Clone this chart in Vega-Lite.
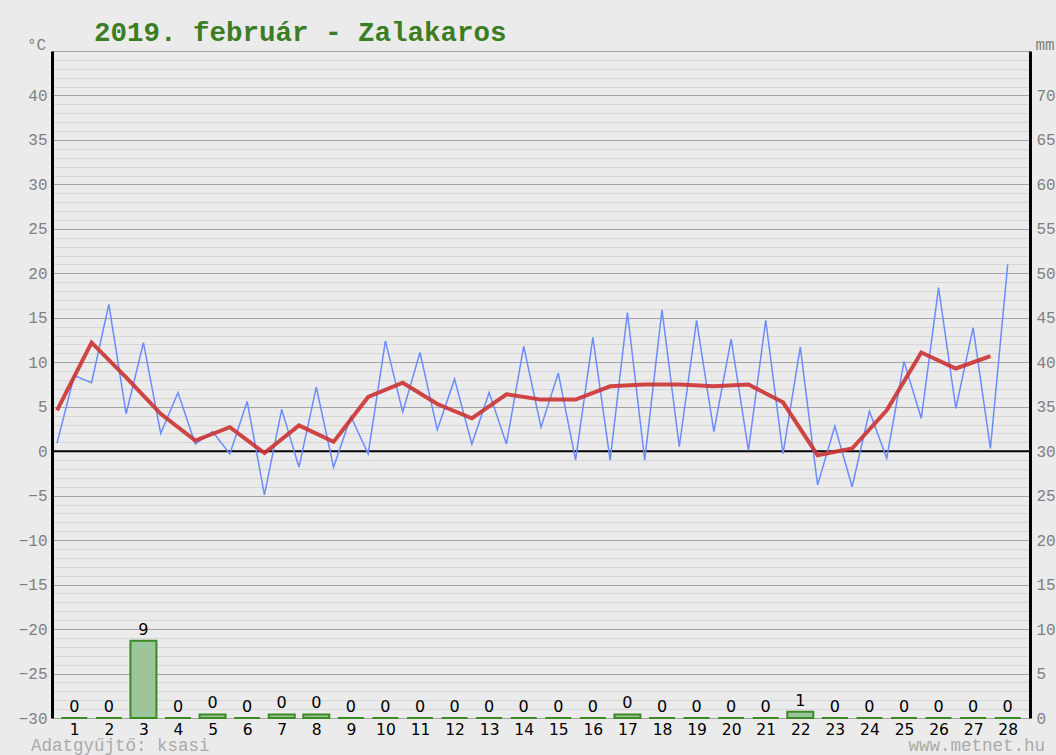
{
  "$schema": "https://vega.github.io/schema/vega-lite/v6.json",
  "autosize": "none",
  "width": 978,
  "height": 667,
  "padding": {"left": 52, "top": 51, "right": 26, "bottom": 37},
  "background": "#ebebeb",
  "config": {
    "view": {"stroke": null},
    "axisX": {
      "grid": false,
      "ticks": false,
      "domain": false,
      "labelFont": "DejaVu Sans",
      "labelFontSize": 15.5,
      "labelColor": "black",
      "labelPadding": 4,
      "labelDx": -2,
      "labelFlush": false,
      "labelOverlap": false
    }
  },
  "title": {
    "text": "2019. február - Zalakaros",
    "anchor": "start",
    "frame": "group",
    "dx": 42,
    "offset": -10,
    "font": "Liberation Mono",
    "fontSize": 27.5,
    "fontWeight": "bold",
    "color": "#3b7d23"
  },
  "datasets": {
    "temp": [
      {"t": 0.5, "temp": 0.9}, {"t": 1.0, "temp": 8.5}, {"t": 1.5, "temp": 7.7}, {"t": 2.0, "temp": 16.5},
      {"t": 2.5, "temp": 4.2}, {"t": 3.0, "temp": 12.2}, {"t": 3.5, "temp": 2.0}, {"t": 4.0, "temp": 6.6},
      {"t": 4.5, "temp": 0.8}, {"t": 5.0, "temp": 2.2}, {"t": 5.5, "temp": -0.3}, {"t": 6.0, "temp": 5.6},
      {"t": 6.5, "temp": -4.9}, {"t": 7.0, "temp": 4.7}, {"t": 7.5, "temp": -1.8}, {"t": 8.0, "temp": 7.2},
      {"t": 8.5, "temp": -1.8}, {"t": 9.0, "temp": 3.9}, {"t": 9.5, "temp": -0.3}, {"t": 10.0, "temp": 12.4},
      {"t": 10.5, "temp": 4.4}, {"t": 11.0, "temp": 11.1}, {"t": 11.5, "temp": 2.4}, {"t": 12.0, "temp": 8.1},
      {"t": 12.5, "temp": 0.8}, {"t": 13.0, "temp": 6.6}, {"t": 13.5, "temp": 0.8}, {"t": 14.0, "temp": 11.8},
      {"t": 14.5, "temp": 2.7}, {"t": 15.0, "temp": 8.8}, {"t": 15.5, "temp": -1.0}, {"t": 16.0, "temp": 12.8},
      {"t": 16.5, "temp": -1.0}, {"t": 17.0, "temp": 15.6}, {"t": 17.5, "temp": -1.0}, {"t": 18.0, "temp": 15.9},
      {"t": 18.5, "temp": 0.5}, {"t": 19.0, "temp": 14.7}, {"t": 19.5, "temp": 2.2}, {"t": 20.0, "temp": 12.6},
      {"t": 20.5, "temp": 0.1}, {"t": 21.0, "temp": 14.7}, {"t": 21.5, "temp": -0.3}, {"t": 22.0, "temp": 11.7},
      {"t": 22.5, "temp": -3.8}, {"t": 23.0, "temp": 2.8}, {"t": 23.5, "temp": -4.0}, {"t": 24.0, "temp": 4.5},
      {"t": 24.5, "temp": -0.8}, {"t": 25.0, "temp": 10.1}, {"t": 25.5, "temp": 3.7}, {"t": 26.0, "temp": 18.4},
      {"t": 26.5, "temp": 4.8}, {"t": 27.0, "temp": 13.9}, {"t": 27.5, "temp": 0.3}, {"t": 28.0, "temp": 21.0}
    ],
    "mean": [
      {"t": 0.5, "mean": 4.6}, {"t": 1.5, "mean": 12.2}, {"t": 2.5, "mean": 8.3}, {"t": 3.5, "mean": 4.2},
      {"t": 4.5, "mean": 1.2}, {"t": 5.5, "mean": 2.7}, {"t": 6.5, "mean": -0.2}, {"t": 7.5, "mean": 2.9},
      {"t": 8.5, "mean": 1.05}, {"t": 9.5, "mean": 6.1}, {"t": 10.5, "mean": 7.7}, {"t": 11.5, "mean": 5.3},
      {"t": 12.5, "mean": 3.7}, {"t": 13.5, "mean": 6.4}, {"t": 14.5, "mean": 5.8}, {"t": 15.5, "mean": 5.8},
      {"t": 16.5, "mean": 7.3}, {"t": 17.5, "mean": 7.5}, {"t": 18.5, "mean": 7.5}, {"t": 19.5, "mean": 7.3},
      {"t": 20.5, "mean": 7.5}, {"t": 21.5, "mean": 5.5}, {"t": 22.5, "mean": -0.45}, {"t": 23.5, "mean": 0.3},
      {"t": 24.5, "mean": 4.6}, {"t": 25.5, "mean": 11.1}, {"t": 26.5, "mean": 9.3}, {"t": 27.5, "mean": 10.7}
    ],
    "precip": [
      {"day": 1, "mm": 0}, {"day": 2, "mm": 0}, {"day": 3, "mm": 8.7}, {"day": 4, "mm": 0},
      {"day": 5, "mm": 0.4}, {"day": 6, "mm": 0}, {"day": 7, "mm": 0.4}, {"day": 8, "mm": 0.4},
      {"day": 9, "mm": 0}, {"day": 10, "mm": 0}, {"day": 11, "mm": 0}, {"day": 12, "mm": 0},
      {"day": 13, "mm": 0}, {"day": 14, "mm": 0}, {"day": 15, "mm": 0}, {"day": 16, "mm": 0},
      {"day": 17, "mm": 0.4}, {"day": 18, "mm": 0}, {"day": 19, "mm": 0}, {"day": 20, "mm": 0},
      {"day": 21, "mm": 0}, {"day": 22, "mm": 0.7}, {"day": 23, "mm": 0}, {"day": 24, "mm": 0},
      {"day": 25, "mm": 0}, {"day": 26, "mm": 0}, {"day": 27, "mm": 0}, {"day": 28, "mm": 0}
    ]
  },
  "layer": [
    {
      "data": {"values": [{}]},
      "mark": {"type": "rule", "color": "black", "strokeWidth": 2},
      "encoding": {
        "y": {
          "datum": 0,
          "type": "quantitative",
          "scale": {"domain": [-30, 45], "nice": false, "zero": false},
          "axis": {
            "orient": "left",
            "values": [-30,-29,-28,-27,-26,-25,-24,-23,-22,-21,-20,-19,-18,-17,-16,-15,-14,-13,-12,-11,-10,-9,-8,-7,-6,-5,-4,-3,-2,-1,0,1,2,3,4,5,6,7,8,9,10,11,12,13,14,15,16,17,18,19,20,21,22,23,24,25,26,27,28,29,30,31,32,33,34,35,36,37,38,39,40,41,42,43,44,45],
            "grid": true,
            "gridColor": {"condition": {"test": "datum.value % 5 === 0", "value": "#a3a3a3"}, "value": "#d6d6d6"},
            "gridWidth": 1.2,
            "ticks": false,
            "domainColor": "black",
            "domainWidth": 3,
            "labelExpr": "datum.value % 5 === 0 && datum.value < 45 ? datum.label : ''",
            "labelOverlap": false,
            "labelFlush": false,
            "labelFont": "Liberation Mono",
            "labelFontSize": 16,
            "labelColor": "#808080",
            "labelPadding": 5,
            "title": "°C",
            "titleAngle": 0,
            "titleX": -16,
            "titleY": -2,
            "titleAlign": "center",
            "titleBaseline": "alphabetic",
            "titleFont": "Liberation Mono",
            "titleFontSize": 16,
            "titleFontWeight": "normal",
            "titleColor": "#808080"
          }
        }
      }
    },
    {
      "data": {"name": "temp"},
      "mark": {"type": "line", "color": "#6b8cff", "strokeWidth": 1.5},
      "encoding": {
        "x": {
          "field": "t",
          "type": "quantitative",
          "scale": {"domain": [0.5, 28.5], "nice": false, "zero": false},
          "axis": {
            "values": [1,2,3,4,5,6,7,8,9,10,11,12,13,14,15,16,17,18,19,20,21,22,23,24,25,26,27,28],
            "labelOverlap": false,
            "title": null
          }
        },
        "y": {"field": "temp", "type": "quantitative", "scale": {"domain": [-30, 45], "nice": false, "zero": false}, "axis": null}
      }
    },
    {
      "data": {"name": "mean"},
      "mark": {"type": "line", "color": "#cc3333", "strokeWidth": 4, "opacity": 0.9},
      "encoding": {
        "x": {"field": "t", "type": "quantitative", "axis": {"values": [1,2,3,4,5,6,7,8,9,10,11,12,13,14,15,16,17,18,19,20,21,22,23,24,25,26,27,28], "labelOverlap": false, "title": null}},
        "y": {"field": "mean", "type": "quantitative", "scale": {"domain": [-30, 45], "nice": false, "zero": false}, "axis": null}
      }
    },
    {
      "data": {"name": "precip"},
      "mark": {"type": "bar", "width": 26, "fill": "#9cc59c", "stroke": "#3b8a23", "strokeWidth": 2},
      "encoding": {
        "x": {"field": "day", "type": "quantitative", "axis": {"values": [1,2,3,4,5,6,7,8,9,10,11,12,13,14,15,16,17,18,19,20,21,22,23,24,25,26,27,28], "labelOverlap": false, "title": null}},
        "y": {
          "field": "mm",
          "type": "quantitative",
          "scale": {"domain": [0, 75], "nice": false},
          "axis": {
            "orient": "right",
            "values": [0,5,10,15,20,25,30,35,40,45,50,55,60,65,70],
            "grid": false,
            "ticks": false,
            "domainColor": "black",
            "domainWidth": 3,
            "labelOverlap": false,
            "labelFlush": false,
            "labelFont": "Liberation Mono",
            "labelFontSize": 16,
            "labelColor": "#808080",
            "labelPadding": 6,
            "title": "mm",
            "titleAngle": 0,
            "titleX": 5,
            "titleY": -2,
            "titleAlign": "left",
            "titleBaseline": "alphabetic",
            "titleFont": "Liberation Mono",
            "titleFontSize": 16,
            "titleFontWeight": "normal",
            "titleColor": "#808080"
          }
        }
      }
    },
    {
      "data": {"name": "precip"},
      "mark": {"type": "text", "baseline": "bottom", "dy": -3, "font": "DejaVu Sans", "fontSize": 16, "color": "black"},
      "encoding": {
        "x": {"field": "day", "type": "quantitative", "axis": {"values": [1,2,3,4,5,6,7,8,9,10,11,12,13,14,15,16,17,18,19,20,21,22,23,24,25,26,27,28], "labelOverlap": false, "title": null}},
        "y": {"field": "mm", "type": "quantitative", "scale": {"domain": [0, 75], "nice": false}, "axis": null},
        "text": {"field": "mm", "type": "quantitative", "format": ".0f"}
      }
    },
    {
      "data": {"values": [{"label": "Adatgyűjtő: ksasi", "x": 0.5}]},
      "mark": {"type": "text", "align": "left", "baseline": "middle", "dx": -26, "dy": 28, "font": "Liberation Mono", "fontSize": 17.5, "color": "#aaaaaa"},
      "encoding": {
        "x": {"field": "x", "type": "quantitative", "axis": {"values": [1,2,3,4,5,6,7,8,9,10,11,12,13,14,15,16,17,18,19,20,21,22,23,24,25,26,27,28], "labelOverlap": false, "title": null}},
        "y": {"datum": -30, "type": "quantitative", "scale": {"domain": [-30, 45], "nice": false, "zero": false}, "axis": null},
        "text": {"field": "label"}
      }
    },
    {
      "data": {"values": [{"label": "www.metnet.hu", "x": 28.5}]},
      "mark": {"type": "text", "align": "right", "baseline": "middle", "dx": 20, "dy": 28, "font": "Liberation Mono", "fontSize": 17.5, "color": "#aaaaaa"},
      "encoding": {
        "x": {"field": "x", "type": "quantitative", "axis": {"values": [1,2,3,4,5,6,7,8,9,10,11,12,13,14,15,16,17,18,19,20,21,22,23,24,25,26,27,28], "labelOverlap": false, "title": null}},
        "y": {"datum": -30, "type": "quantitative", "scale": {"domain": [-30, 45], "nice": false, "zero": false}, "axis": null},
        "text": {"field": "label"}
      }
    }
  ],
  "resolve": {"scale": {"y": "independent"}}
}
